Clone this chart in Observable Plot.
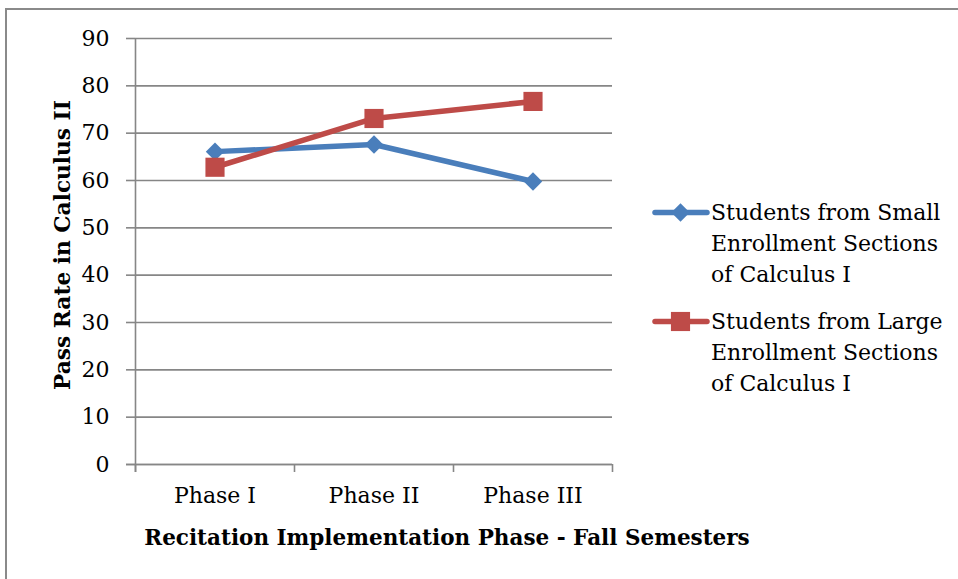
<!DOCTYPE html>
<html>
<head>
<meta charset="utf-8">
<script src="https://cdn.jsdelivr.net/npm/d3@7"></script>
<script src="https://cdn.jsdelivr.net/npm/@observablehq/plot@0.6"></script>
<style>
  html, body { margin: 0; padding: 0; background: #fff; }
  #wrap { position: relative; width: 958px; height: 579px; overflow: hidden; font-family: "DejaVu Serif", serif; }
  #frame { position: absolute; left: 5px; top: 8px; width: 1000px; height: 700px; border-left: 2px solid #8a8a8a; border-top: 2px solid #8a8a8a; box-sizing: border-box; }
  #chart { position: absolute; left: 0; top: 0; }
  .ytitle { position: absolute; left: 62px; top: 245px; transform: translate(-50%, -50%) rotate(-90deg); white-space: nowrap; font-weight: bold; font-size: 21.7px; color: #000; }
  .xtitle { position: absolute; left: 447px; top: 537px; transform: translate(-50%, -50%); white-space: nowrap; font-weight: bold; font-size: 21.5px; color: #000; }
  .legend { position: absolute; left: 652px; font-size: 22px; line-height: 31px; color: #000; }
  .legend .item { position: relative; padding-left: 59px; }
  .legend svg { position: absolute; left: 0; top: 0; }
</style>
</head>
<body>
<div id="wrap">
  <div id="frame"></div>
  <div id="chart"></div>
  <div class="ytitle">Pass Rate in Calculus II</div>
  <div class="xtitle">Recitation Implementation Phase - Fall Semesters</div>
  <div class="legend" id="legend"></div>
</div>
<script>
const phases = ["Phase I", "Phase II", "Phase III"];
const smallSections = [66.1, 67.6, 59.8];
const largeSections = [62.8, 73.1, 76.7];
const seriesNames = [
  "Students from Small Enrollment Sections of Calculus I",
  "Students from Large Enrollment Sections of Calculus I"
];
const legendLines = [
  ["Students from Small", "Enrollment Sections", "of Calculus I"],
  ["Students from Large", "Enrollment Sections", "of Calculus I"]
];
const yTicks = [0, 10, 20, 30, 40, 50, 60, 70, 80, 90];
const colors = ["#4A7EBB", "#BE4B48"];
const symbols = ["diamond2", "square"];

const data = [];
phases.forEach((p, i) => {
  data.push({phase: p, value: smallSections[i], series: seriesNames[0]});
  data.push({phase: p, value: largeSections[i], series: seriesNames[1]});
});

const W = 958, H = 579, mL = 135, mR = 346, mT = 38, mB = 115;
const bw = (W - mL - mR) / phases.length;
const plotH = H - mT - mB;

const chart = Plot.plot({
  width: W,
  height: H,
  marginLeft: mL,
  marginRight: mR,
  marginTop: mT,
  marginBottom: mB,
  style: {fontFamily: "'DejaVu Serif', serif", fontSize: "22px", color: "#000", background: "transparent"},
  x: {type: "band", domain: phases, padding: 0, label: null},
  y: {domain: [0, 90], label: null},
  color: {domain: seriesNames, range: colors},
  symbol: {domain: seriesNames, range: symbols},
  marks: [
    Plot.gridY(yTicks, {stroke: "#868686", strokeOpacity: 1, strokeWidth: 1.6}),
    Plot.axisY(yTicks, {tickSize: 9, tickPadding: 17, stroke: "#868686", strokeWidth: 1.6, fontSize: 22, fill: "#000", label: null}),
    Plot.axisX({tickSize: 0, tickPadding: 23, fontSize: 22, fill: "#000", label: null}),
    Plot.ruleX(phases, {x: d => d, dx: -bw / 2, insetTop: plotH, insetBottom: -8, stroke: "#868686", strokeWidth: 1.6}),
    Plot.ruleX([phases[phases.length - 1]], {x: d => d, dx: bw / 2, insetTop: plotH, insetBottom: -8, stroke: "#868686", strokeWidth: 1.6}),
    Plot.ruleX([phases[0]], {x: d => d, dx: -bw / 2, insetBottom: -8, stroke: "#868686", strokeWidth: 1.6}),
    Plot.ruleY([0], {stroke: "#868686", strokeWidth: 1.6, insetLeft: -9}),
    Plot.line(data, {x: "phase", y: "value", z: "series", stroke: "series", strokeWidth: 5.5, strokeLinejoin: "round", strokeLinecap: "round"}),
    Plot.dot(data.filter(d => d.series === seriesNames[0]), {x: "phase", y: "value", symbol: "series", fill: "series", r: 8.3}),
    Plot.dot(data.filter(d => d.series === seriesNames[1]), {x: "phase", y: "value", symbol: "series", fill: "series", r: 10.8})
  ]
});
document.getElementById("chart").appendChild(chart);

// Legend
const legend = document.getElementById("legend");
legend.style.top = (212 - 15) + "px";
const sizes = [8.3, 10.8];
legendLines.forEach((lines, k) => {
  const item = document.createElement("div");
  item.className = "item";
  if (k > 0) item.style.marginTop = "16px";
  const svg = d3.create("svg").attr("width", 58).attr("height", 31);
  svg.append("line").attr("x1", 3).attr("x2", 55).attr("y1", 15.5).attr("y2", 15.5)
    .attr("stroke", colors[k]).attr("stroke-width", 5.5).attr("stroke-linecap", "round");
  const sym = k === 0 ? d3.symbolDiamond2 : d3.symbolSquare;
  svg.append("path").attr("d", d3.symbol(sym, Math.PI * sizes[k] * sizes[k])())
    .attr("transform", "translate(28.5,15.5)").attr("fill", colors[k]);
  item.appendChild(svg.node());
  lines.forEach(t => {
    const l = document.createElement("div");
    l.textContent = t;
    item.appendChild(l);
  });
  legend.appendChild(item);
});
</script>
</body>
</html>
